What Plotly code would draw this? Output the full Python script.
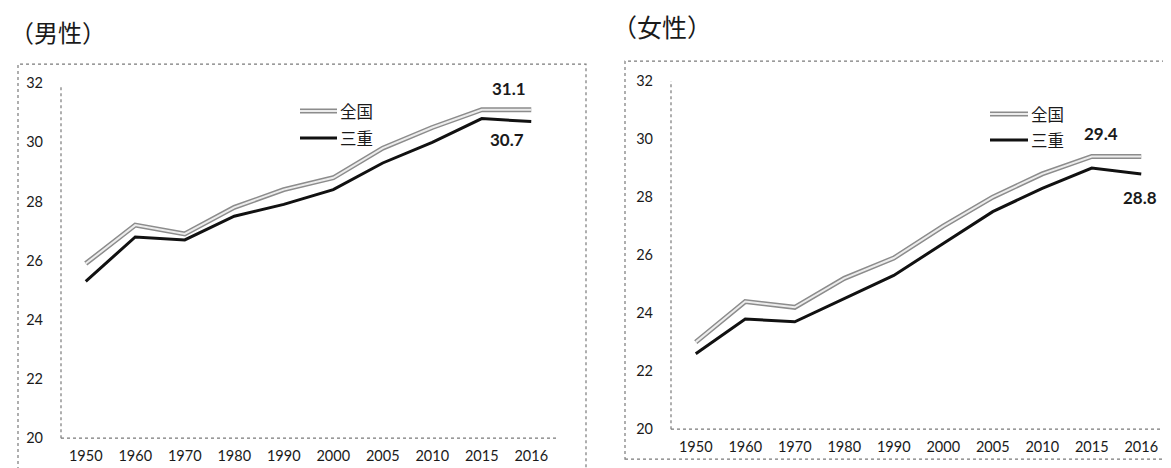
import plotly.graph_objects as go

W, H = 1171, 468

years = ["1950", "1960", "1970", "1980", "1990", "2000", "2005", "2010", "2015", "2016"]
male_national = [25.9, 27.2, 26.9, 27.8, 28.4, 28.8, 29.8, 30.5, 31.1, 31.1]
male_mie = [25.3, 26.8, 26.7, 27.5, 27.9, 28.4, 29.3, 30.0, 30.8, 30.7]
female_national = [23.0, 24.4, 24.2, 25.2, 25.9, 27.0, 28.0, 28.8, 29.4, 29.4]
female_mie = [22.6, 23.8, 23.7, 24.5, 25.3, 26.4, 27.5, 28.3, 29.0, 28.8]
series_names = ["全国", "三重"]
panel_titles = ["（男性）", "（女性）"]
y_ticks = [20, 22, 24, 26, 28, 30, 32]

NUM_FONT = "Lato, 'Open Sans', sans-serif"
JP_FONT = "'Noto Sans CJK JP', sans-serif"
TXT = "#1a1a1a"

# calibration of page placement (target screenshot pixels -> paper coords)
OX, OY, SY = 8.0, 15.9, 0.9636


def px(x):
    return (x - OX) / W


def py(y):
    return 1 - ((y - OY) / SY) / H


fig = go.Figure()

panels = [
    dict(xa="x", ya="y", nat=male_national, mie=male_mie),
    dict(xa="x2", ya="y2", nat=female_national, mie=female_mie),
]
for p in panels:
    fig.add_trace(go.Scatter(x=years, y=p["nat"], mode="lines", xaxis=p["xa"], yaxis=p["ya"],
                             line=dict(color="#8c8c8c", width=5), showlegend=False, hoverinfo="skip"))
    fig.add_trace(go.Scatter(x=years, y=p["nat"], mode="lines", xaxis=p["xa"], yaxis=p["ya"],
                             line=dict(color="#ececec", width=2), showlegend=False, name=series_names[0]))
    fig.add_trace(go.Scatter(x=years, y=p["mie"], mode="lines", xaxis=p["xa"], yaxis=p["ya"],
                             line=dict(color="#111111", width=3), showlegend=False, name=series_names[1]))

L = dict(x0=61, x1=556, y0=437, y1=82)
R = dict(x0=671, x1=1166, y0=428, y1=80)

common_x = dict(type="category", range=[-0.5, len(years) - 0.5], showgrid=False, showline=False,
                zeroline=False, ticks="", tickfont=dict(family=NUM_FONT, size=14.5, color=TXT),
                ticklabelstandoff=7)
common_y = dict(range=[20, 32], tickvals=y_ticks, showgrid=False, showline=False, zeroline=False,
                ticks="", tickfont=dict(family=NUM_FONT, size=14.5, color=TXT), ticklabelstandoff=17)

fig.update_layout(
    width=W, height=H, margin=dict(l=0, r=0, t=0, b=0),
    paper_bgcolor="white", plot_bgcolor="white", showlegend=False,
    xaxis=dict(domain=[px(L["x0"]), px(L["x1"])], anchor="y", **common_x),
    yaxis=dict(domain=[py(L["y0"]), py(L["y1"])], anchor="x", **common_y),
    xaxis2=dict(domain=[px(R["x0"]), px(R["x1"])], anchor="y2", **common_x),
    yaxis2=dict(domain=[py(R["y0"]), py(R["y1"])], anchor="x2", **common_y),
)

shapes = []
dot = dict(color="#7a7a7a", width=1.2, dash="dot")
shapes.append(dict(type="rect", xref="paper", yref="paper", x0=px(18), x1=px(586), y0=py(480), y1=py(63), line=dot))
shapes.append(dict(type="rect", xref="paper", yref="paper", x0=px(625), x1=px(1185), y0=py(458), y1=py(60), line=dot))
for g, top in ((L, 84), (R, 80)):
    shapes.append(dict(type="line", xref="paper", yref="paper", x0=px(g["x0"]), x1=px(g["x0"]),
                       y0=py(g["y0"]), y1=py(top), line=dot))
    shapes.append(dict(type="line", xref="paper", yref="paper", x0=px(g["x0"]), x1=px(g["x1"]),
                       y0=py(g["y0"]), y1=py(g["y0"]), line=dot))

legends = [(300, 337, 110, 137), (990, 1028, 113, 139)]
annotations = []
for lx0, lx1, ly_nat, ly_mie in legends:
    shapes.append(dict(type="line", xref="paper", yref="paper", x0=px(lx0), x1=px(lx1),
                       y0=py(ly_nat), y1=py(ly_nat), line=dict(color="#8c8c8c", width=5)))
    shapes.append(dict(type="line", xref="paper", yref="paper", x0=px(lx0), x1=px(lx1),
                       y0=py(ly_nat), y1=py(ly_nat), line=dict(color="#ececec", width=2)))
    shapes.append(dict(type="line", xref="paper", yref="paper", x0=px(lx0), x1=px(lx1),
                       y0=py(ly_mie), y1=py(ly_mie), line=dict(color="#111111", width=3)))
    for name, ly in zip(series_names, (ly_nat, ly_mie)):
        annotations.append(dict(xref="paper", yref="paper", x=px(lx1 + 1), y=py(ly), text=name,
                                showarrow=False, xanchor="left", yanchor="middle",
                                font=dict(family=JP_FONT, size=16.5, color=TXT)))

annotations.append(dict(xref="paper", yref="paper", x=0, y=py(30), text=panel_titles[0], showarrow=False,
                        xanchor="left", yanchor="middle", font=dict(family=JP_FONT, size=24, color=TXT)))
annotations.append(dict(xref="paper", yref="paper", x=px(662), y=py(25), text=panel_titles[1], showarrow=False,
                        xanchor="center", yanchor="middle", font=dict(family=JP_FONT, size=25, color=TXT)))

last = len(years) - 1
bold = dict(family=NUM_FONT, size=17, color=TXT)
annotations += [
    dict(xref="x", yref="y", x=last, y=male_national[-1], text=f"<b>{male_national[-1]}</b>",
         showarrow=False, xshift=-22, yshift=21, font=bold),
    dict(xref="x", yref="y", x=last, y=male_mie[-1], text=f"<b>{male_mie[-1]}</b>",
         showarrow=False, xshift=-24, yshift=-18, font=bold),
    dict(xref="x2", yref="y2", x=last, y=female_national[-1], text=f"<b>{female_national[-1]}</b>",
         showarrow=False, xshift=-40, yshift=23, font=bold),
    dict(xref="x2", yref="y2", x=last, y=female_mie[-1], text=f"<b>{female_mie[-1]}</b>",
         showarrow=False, xshift=-1, yshift=-24, font=bold),
]

fig.update_layout(shapes=shapes, annotations=annotations)
fig.write_html("out.html")
